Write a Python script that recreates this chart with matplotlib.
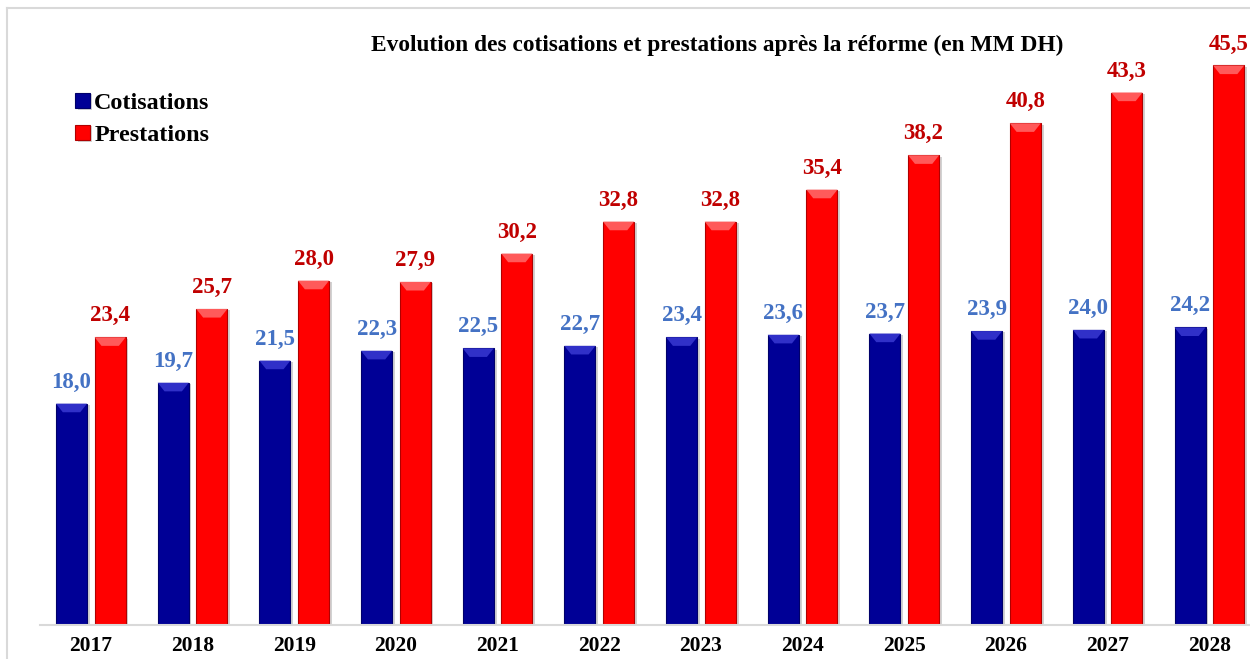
import matplotlib.pyplot as plt
from matplotlib.patches import Polygon
from matplotlib.lines import Line2D
import matplotlib.patheffects as pe
import numpy as np

# data
years = ["2017", "2018", "2019", "2020", "2021", "2022",
         "2023", "2024", "2025", "2026", "2027", "2028"]
cotisations = [18.0, 19.7, 21.5, 22.3, 22.5, 22.7, 23.4, 23.6, 23.7, 23.9, 24.0, 24.2]
prestations = [23.4, 25.7, 28.0, 27.9, 30.2, 32.8, 32.8, 35.4, 38.2, 40.8, 43.3, 45.5]

title = "Evolution des cotisations et prestations après la réforme (en MM DH)"

plt.rcParams['font.family'] = ['Liberation Serif', 'DejaVu Serif']
plt.rcParams['font.weight'] = 'bold'

fig = plt.figure(figsize=(12.5, 6.59), dpi=100)
ax = fig.add_axes([0.032, 0.0516, 0.968, 0.933])

x = np.arange(len(years))
w = 0.305
off = 0.19

shadow = [pe.SimplePatchShadow(offset=(2, -1), shadow_rgbFace='#808080', alpha=0.35), pe.Normal()]
b1 = ax.bar(x - off, cotisations, w, color='#000096', edgecolor='#00006a', linewidth=0.8,
            path_effects=shadow, label='Cotisations')
b2 = ax.bar(x + off, prestations, w, color='#ff0000', edgecolor='#b00000', linewidth=0.8,
            path_effects=shadow, label='Prestations')


# light bevel at the top of each bar
def bevel(bars, light):
    for r in bars:
        x0, wd, h = r.get_x(), r.get_width(), r.get_height()
        d = 0.7  # bevel depth in data units
        ins = wd * 0.22
        poly = Polygon([(x0, h), (x0 + wd, h), (x0 + wd - ins, h - d), (x0 + ins, h - d)],
                       closed=True, facecolor=light, edgecolor='none', zorder=3)
        ax.add_patch(poly)


bevel(b1, '#3030c8')
bevel(b2, '#ff5a5a')

for r, v in zip(b1, cotisations):
    ax.annotate(f"{v:.1f}".replace('.', ','), (r.get_x() + r.get_width() / 2, v),
                xytext=(0, 11.5), textcoords='offset points', ha='center', va='baseline',
                fontsize=16.5, fontweight='bold', color='#4472c4')
for r, v in zip(b2, prestations):
    ax.annotate(f"{v:.1f}".replace('.', ','), (r.get_x() + r.get_width() / 2, v),
                xytext=(0, 11.5), textcoords='offset points', ha='center', va='baseline',
                fontsize=16.5, fontweight='bold', color='#c00000')

ax.set_xlim(-0.5, 11.4)
ax.set_ylim(0, 50)
ax.set_xticks(x)
ax.set_xticklabels(years, fontsize=15.5, fontweight='bold')
ax.tick_params(axis='x', length=0, pad=8)
ax.set_yticks([])
for s in ['top', 'right', 'left']:
    ax.spines[s].set_visible(False)
ax.spines['bottom'].set_color('#d9d9d9')
ax.spines['bottom'].set_linewidth(1.5)

fig.text(0.574, 0.931, title, ha='center', va='center', fontsize=16.8, fontweight='bold')

leg = fig.legend(handles=[b1, b2], loc='upper left', bbox_to_anchor=(0.060, 0.859),
                 frameon=False, fontsize=17.4, handlelength=0.6, handleheight=0.6,
                 handletextpad=0.2, labelspacing=0.45, borderaxespad=0, borderpad=0)
for t in leg.get_texts():
    t.set_fontweight('bold')

# outer chart frame (left and top edges visible)
fig.add_artist(Line2D([0.0056, 0.0056], [0, 0.988], color='#d9d9d9', lw=1.5))
fig.add_artist(Line2D([0.0056, 1.0], [0.988, 0.988], color='#d9d9d9', lw=1.5))

fig.savefig('out.png', dpi=100)
